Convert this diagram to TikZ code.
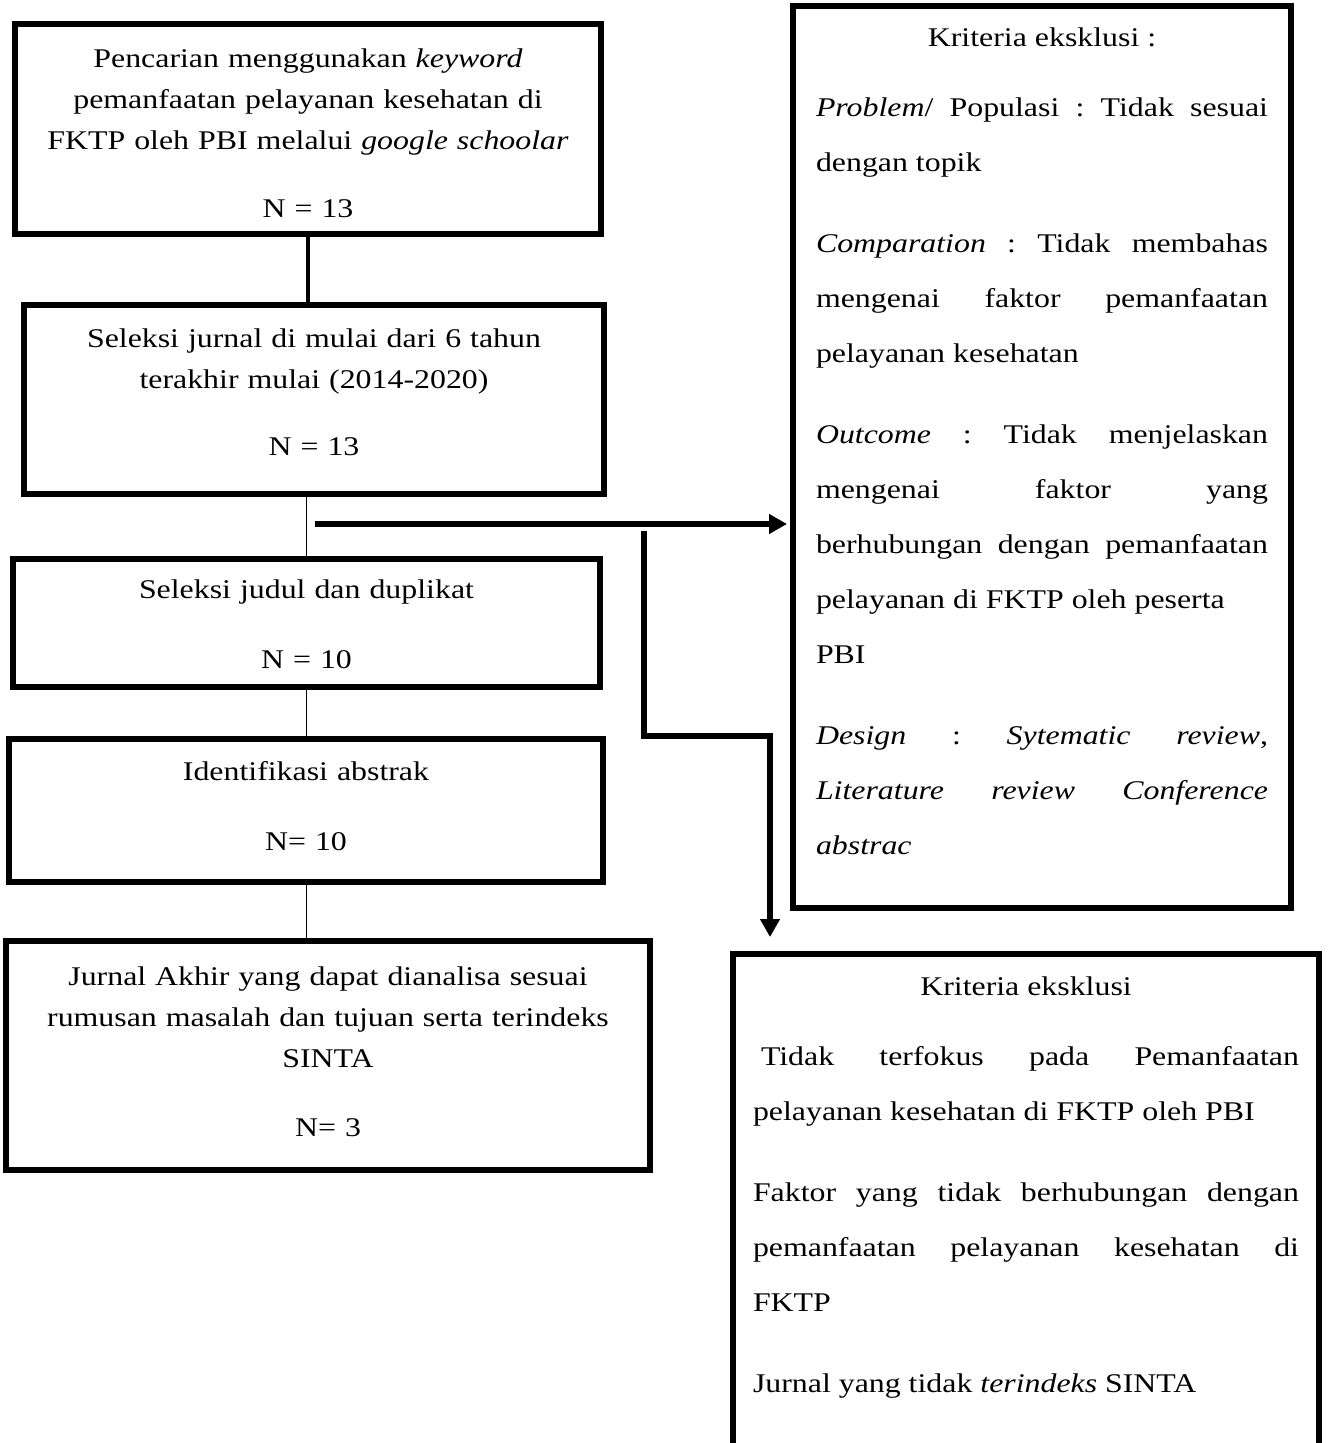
\documentclass[tikz,border=0pt]{standalone}
\usepackage{fontspec}
\setmainfont{Liberation Serif}[FakeStretch=1.18]
\usetikzlibrary{arrows.meta}
\newcommand{\justline}[1]{{\spaceskip=0pt\xspaceskip=0pt\makebox[\linewidth][s]{#1}}}

\begin{document}
\begin{tikzpicture}[
    x=0.5pt, y=-0.5pt,
    box/.style={draw, line width=3pt, inner sep=0pt, anchor=base, align=center, font=\fontsize{13.5pt}{20.5pt}\selectfont\frenchspacing},
    kriteria/.style={draw, line width=3pt, inner ysep=0pt, anchor=base, align=justify, font=\fontsize{13.5pt}{27.5pt}\selectfont\frenchspacing},
    arrow/.style={-{Triangle[length=9pt,width=9.5pt]}, line width=3pt},
    connect/.style={line width=0.5pt}
]
    \clip (0,0) rectangle (1329,1443);

    % Kästen links
    \node[box, text width=293pt, text height=22pt, text depth=83pt] (search) at (308,68) {Pencarian menggunakan \textit{keyword}\\ pemanfaatan pelayanan kesehatan di\\ FKTP oleh PBI melalui \textit{google schoolar}\\[13.5pt] N = 13};
    \node[box, text width=290pt, text height=21.5pt, text depth=73pt] (range) at (314,348) {Seleksi jurnal di mulai dari 6 tahun\\ terakhir mulai (2014-2020)\\[13pt] N = 13};
    \node[box, text width=293.5pt, text height=19.5pt, text depth=44.5pt] (title) at (306.5,598) {Seleksi judul dan duplikat\\[14.5pt] N = 10};
    \node[box, text width=297pt, text height=20.5pt, text depth=51pt] (abstract) at (306,780) {Identifikasi abstrak\\[14.5pt] N= 10};
    \node[box, text width=322pt, text height=22pt, text depth=92.5pt] (final) at (328,985) {Jurnal Akhir yang dapat dianalisa sesuai\\ rumusan masalah dan tujuan serta terindeks\\ SINTA\\[14pt] N= 3};

    % Ausschlusskriterien
    \node[kriteria, text width=226pt, inner xsep=11.5pt, text height=20.5pt, text depth=430.5pt] (excl1) at (1042,47) {%
        \makebox[\linewidth]{Kriteria eksklusi :}\\[7.5pt]
        \justline{\textit{Problem}/ Populasi : Tidak sesuai}\\
        dengan topik\\[13pt]
        \justline{\textit{Comparation} : Tidak membahas}\\
        \justline{mengenai faktor pemanfaatan}\\
        pelayanan kesehatan\\[13pt]
        \justline{\textit{Outcome} : Tidak menjelaskan}\\
        \justline{mengenai faktor yang}\\
        \justline{berhubungan dengan pemanfaatan}\\
        pelayanan di FKTP oleh peserta\\
        PBI\\[13pt]
        \justline{\textit{Design} : \textit{Sytematic review},}\\
        \justline{\textit{Literature review Conference}}\\
        \textit{abstrac}};
    \node[kriteria, text width=273pt, inner xsep=10pt, text height=20.5pt, text depth=237.5pt] (excl2) at (1026,995) {%
        \makebox[\linewidth]{Kriteria eksklusi}\\[7.5pt]
        \justline{\hspace{4pt}Tidak terfokus pada Pemanfaatan}\\
        pelayanan kesehatan di FKTP oleh PBI\\[13pt]
        \justline{Faktor yang tidak berhubungan dengan}\\
        \justline{pemanfaatan pelayanan kesehatan di}\\
        FKTP\\[13pt]
        Jurnal yang tidak \textit{terindeks} SINTA};

    % Verbindungen
    \coordinate (split) at (315,524);
    \coordinate (bend) at (644,531);
    \coordinate (drop) at (770,736);
    \draw[line width=2pt] (search.south) -- (range.north -| search.south);
    \draw[connect] (range.south -| title.north) -- (title.north);
    \draw[connect] (title.south) -- (abstract.north -| title.south);
    \draw[connect] (abstract.south) -- (final.north -| abstract.south);
    \draw[arrow, shorten >=1.5pt] (split) -- (split -| excl1.west);
    \draw[arrow, shorten >=7pt] (bend) |- (drop) -- (drop |- excl2.north);
\end{tikzpicture}
\end{document}
